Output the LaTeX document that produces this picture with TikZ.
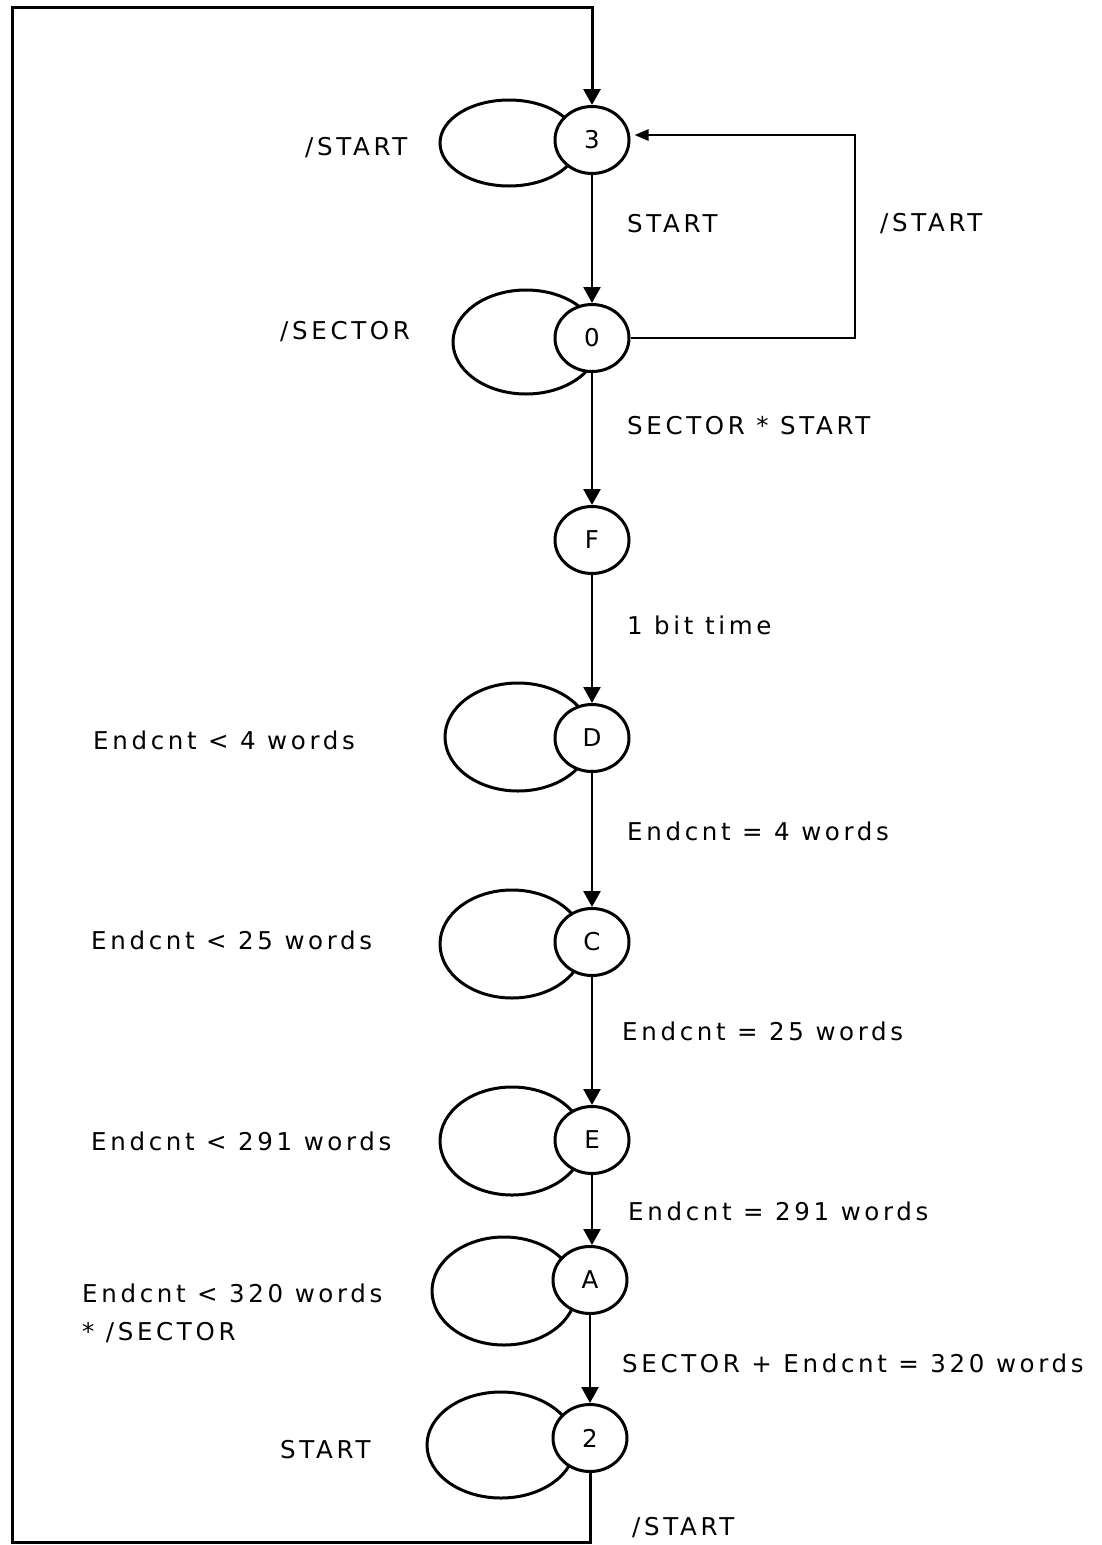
\documentclass[tikz,border=0pt]{standalone}
\usepackage{fontspec}
\setmainfont{DejaVu Sans}[LetterSpace=15]
\usetikzlibrary{arrows.meta,shapes.geometric,backgrounds}
\begin{document}
\begin{tikzpicture}[x=1pt,y=-1pt,
  font=\fontsize{24.5}{30}\selectfont,
  state/.style={ellipse,draw,line width=3pt,fill=white,minimum width=74pt,minimum height=67pt,inner sep=0pt},
  lbl/.style={anchor=west,inner sep=0pt},
  wire/.style={line width=2.6pt},
  arr/.style={line width=2.6pt,-{Triangle[width=17pt,length=16pt]}},
  loopstyle/.style={line width=3pt}
]
\useasboundingbox (0,0) rectangle (1101,1545);

% states
\node[state] (s3) at (592,140) {3};
\node[state] (s0) at (592,338) {0};
\node[state] (sF) at (592,540) {F};
\node[state] (sD) at (592,738) {D};
\node[state] (sC) at (592,942) {C};
\node[state] (sE) at (592,1140) {E};
\node[state] (sA) at (590,1280) {A};
\node[state] (s2) at (590,1438) {2};

% self loops (behind the states)
\begin{scope}[on background layer]
\draw[loopstyle] (509,143) ellipse [x radius=69pt, y radius=43pt];
\draw[loopstyle] (526,342) ellipse [x radius=73pt, y radius=52pt];
\draw[loopstyle] (518,737) ellipse [x radius=73pt, y radius=54pt];
\draw[loopstyle] (512,944) ellipse [x radius=72pt, y radius=54pt];
\draw[loopstyle] (512,1141) ellipse [x radius=72pt, y radius=54pt];
\draw[loopstyle] (504,1291) ellipse [x radius=72pt, y radius=54pt];
\draw[loopstyle] (501,1445) ellipse [x radius=74pt, y radius=53pt];
\end{scope}

% transitions
\draw[arr] (s3) -- (s0);
\draw[arr] (s0) -- (sF);
\draw[arr] (sF) -- (sD);
\draw[arr] (sD) -- (sC);
\draw[arr] (sC) -- (sE);
\draw[arr] (sE.south) -- (sE.south |- sA.north);
\draw[arr] (sA) -- (s2);

% feedback 0 -> 3
\coordinate (r1) at (855,338);
\coordinate (r2) at (855,135);
\draw[wire,-{Triangle[width=11pt,length=14pt]},shorten >=4pt] (s0.east) -- (r1) -- (r2) -- (s3.east |- r2);

% big loop 2 -> 3
\coordinate (b1) at (590,1542);
\coordinate (b2) at (12,1542);
\coordinate (b3) at (12,7);
\coordinate (b4) at (592,7);
\draw[arr,line width=3pt] (s2) -- (b1) -- (b2) -- (b3) -- (b4) -- (s3);

% labels
\node[lbl] (t1) at (305,148) {/START};
\node[lbl] (t2) at (627,224) {START};
\node[lbl] (t3) at (880,224) {/START};
\node[lbl] (t4) at (280,332) {/SECTOR};
\node[lbl] (t5) at (627,426) {SECTOR * START};
\node[lbl] (t6) at (627,625) {1 bit time};
\node[lbl] (t7) at (93,740) {Endcnt < 4 words};
\node[lbl] (t8) at (627,831) {Endcnt = 4 words};
\node[lbl] (t9) at (91,940) {Endcnt < 25 words};
\node[lbl] (t10) at (622,1031) {Endcnt = 25 words};
\node[lbl] (t11) at (91,1141) {Endcnt < 291 words};
\node[lbl] (t12) at (628,1211) {Endcnt = 291 words};
\node[lbl] (t13) at (82,1293) {Endcnt < 320 words};
\node[lbl] (t14) at (82,1333) {* /SECTOR};
\node[lbl] (t15) at (622,1363) {SECTOR + Endcnt = 320 words};
\node[lbl] (t16) at (280,1450) {START};
\node[lbl] (t17) at (632,1528) {/START};
\end{tikzpicture}
\end{document}
